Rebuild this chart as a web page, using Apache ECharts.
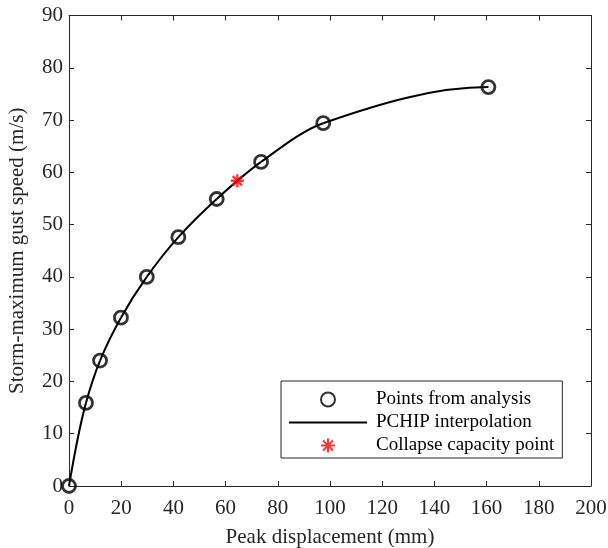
<!DOCTYPE html>
<html>
<head>
<meta charset="utf-8">
<script src="https://cdn.jsdelivr.net/npm/echarts@6/dist/echarts.min.js"></script>
<style>
  html, body { margin: 0; padding: 0; background: #fff; }
  #chart { width: 608px; height: 548px; }
</style>
</head>
<body>
<div id="chart"></div>
<script>
// Peak displacement (mm) from the analysis runs
const displacement = [0, 6.5, 11.9, 19.9, 29.8, 41.9, 56.6, 73.6, 97.4, 160.7];
// Storm-maximum gust speed (m/s) for each run
const gust = [0, 15.9, 24.0, 32.2, 40.0, 47.6, 54.9, 62.0, 69.4, 76.3];
// Collapse capacity point [displacement, gust speed]
const collapsePoint = [64.5, 58.4];

const xTicks = { min: 0, max: 200, interval: 20 };
const yTicks = { min: 0, max: 90, interval: 10 };

const ink = '#262626';
const font = '"Liberation Serif", "Times New Roman", serif';

// Asterisk marker: plus and cross strokes
const asterisk = 'path://M0,-7L0,7M-7,0L7,0M-4.95,-4.95L4.95,4.95M-4.95,4.95L4.95,-4.95';
// Thin bar used as the legend key of the interpolation line
const lineKey = 'path://M0,0L78,0L78,2.2L0,2.2Z';

const pts = displacement.map((x, i) => [x, gust[i]]);

// Fritsch–Carlson (PCHIP) end-point and interior slopes
function pchipSlopes(x, y) {
  const n = x.length;
  const h = [], del = [];
  for (let k = 0; k < n - 1; k++) {
    h.push(x[k + 1] - x[k]);
    del.push((y[k + 1] - y[k]) / h[k]);
  }
  const d = new Array(n).fill(0);
  for (let k = 1; k < n - 1; k++) {
    if (del[k - 1] * del[k] > 0) {
      const w1 = 2 * h[k] + h[k - 1];
      const w2 = h[k] + 2 * h[k - 1];
      d[k] = (w1 + w2) / (w1 / del[k - 1] + w2 / del[k]);
    }
  }
  function endSlope(h0, h1, d0, d1) {
    let s = ((2 * h0 + h1) * d0 - h0 * d1) / (h0 + h1);
    if (Math.sign(s) !== Math.sign(d0)) s = 0;
    else if (Math.sign(d0) !== Math.sign(d1) && Math.abs(s) > Math.abs(3 * d0)) s = 3 * d0;
    return s;
  }
  d[0] = endSlope(h[0], h[1], del[0], del[1]);
  d[n - 1] = endSlope(h[n - 2], h[n - 3], del[n - 2], del[n - 3]);
  return d;
}
const slopes = pchipSlopes(displacement, gust);

// One cubic Hermite piece per pair of neighbouring analysis points
function renderPiece(params, api) {
  const k = params.dataIndex;
  if (k >= displacement.length - 1) return null;
  const x0 = displacement[k], x1 = displacement[k + 1];
  const y0 = gust[k], y1 = gust[k + 1];
  const hk = x1 - x0;
  const p0 = api.coord([x0, y0]);
  const c0 = api.coord([x0 + hk / 3, y0 + slopes[k] * hk / 3]);
  const c1 = api.coord([x1 - hk / 3, y1 - slopes[k + 1] * hk / 3]);
  const p1 = api.coord([x1, y1]);
  return {
    type: 'bezierCurve',
    shape: {
      x1: p0[0], y1: p0[1], x2: p1[0], y2: p1[1],
      cpx1: c0[0], cpy1: c0[1], cpx2: c1[0], cpy2: c1[1]
    },
    style: { stroke: '#000', lineWidth: 2, fill: null }
  };
}

function axisBase(t) {
  return {
    type: 'value',
    min: t.min, max: t.max, interval: t.interval,
    splitLine: { show: false },
    axisLine: { show: true, onZero: false, lineStyle: { color: ink, width: 1 } },
    axisTick: { show: true, inside: true, length: 5, lineStyle: { color: ink, width: 1 } }
  };
}

const chart = echarts.init(document.getElementById('chart'), null, { renderer: 'canvas' });
chart.setOption({
  animation: false,
  backgroundColor: '#fff',
  textStyle: { fontFamily: font, color: ink },
  grid: { left: 69, right: 17, top: 15.5, bottom: 62, containLabel: false, outerBoundsMode: 'none' },
  xAxis: [
    Object.assign(axisBase(xTicks), {
      position: 'bottom',
      name: 'Peak displacement (mm)',
      nameLocation: 'middle',
      nameGap: 41,
      nameTextStyle: { fontFamily: font, fontSize: 21, color: ink },
      axisLabel: { fontFamily: font, fontSize: 21, color: ink, margin: 12 }
    }),
    Object.assign(axisBase(xTicks), {
      position: 'top',
      axisLabel: { show: false }
    })
  ],
  yAxis: [
    Object.assign(axisBase(yTicks), {
      position: 'left',
      name: 'Storm-maximum gust speed (m/s)',
      nameLocation: 'middle',
      nameGap: 41,
      nameTextStyle: { fontFamily: font, fontSize: 21, color: ink },
      axisLabel: { fontFamily: font, fontSize: 21, color: ink, margin: 6 }
    }),
    Object.assign(axisBase(yTicks), {
      position: 'right',
      axisLabel: { show: false }
    })
  ],
  legend: {
    orient: 'vertical',
    left: 281,
    top: 381,
    padding: [9, 8, 3, 8],
    itemGap: 4,
    itemWidth: 78,
    itemHeight: 14,
    backgroundColor: '#fff',
    borderColor: ink,
    borderWidth: 1,
    borderRadius: 0,
    textStyle: { fontFamily: font, fontSize: 19, color: '#000', padding: [0, 0, 0, 4] },
    data: [
      { name: 'Points from analysis', icon: 'circle' },
      { name: 'PCHIP interpolation', icon: lineKey, itemStyle: { color: '#000', borderWidth: 0 } },
      { name: 'Collapse capacity point', icon: asterisk }
    ]
  },
  series: [
    {
      name: 'PCHIP interpolation',
      type: 'custom',
      data: pts,
      renderItem: renderPiece,
      itemStyle: { color: '#000' },
      z: 2
    },
    {
      name: 'Points from analysis',
      type: 'scatter',
      data: pts,
      symbol: 'circle',
      symbolSize: 13,
      itemStyle: { color: 'rgba(0,0,0,0)', borderColor: '#000', borderWidth: 2.8 },
      z: 3
    },
    {
      name: 'Collapse capacity point',
      type: 'scatter',
      data: [collapsePoint],
      symbol: asterisk,
      symbolSize: 13,
      itemStyle: { color: '#ff0000', borderColor: '#ff0000', borderWidth: 2.4 },
      z: 4
    }
  ]
});
</script>
</body>
</html>
